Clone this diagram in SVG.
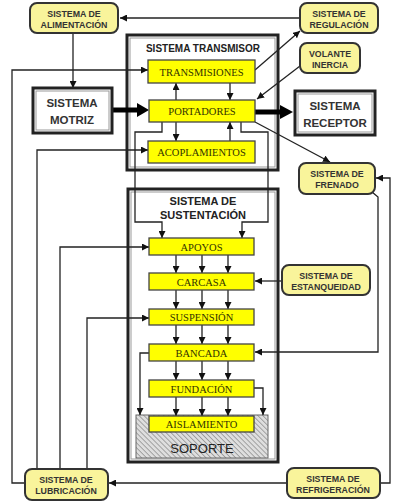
<svg xmlns="http://www.w3.org/2000/svg" width="400" height="502" viewBox="0 0 400 502">
<style>
.rb{fill:#f9f49b;stroke:#333;stroke-width:2}
.yb{fill:#ffff00;stroke:#444;stroke-width:1.3}
.big{fill:none;stroke:#222;stroke-width:3}
.bigin{fill:none;stroke:#999;stroke-width:1}
.c{fill:none;stroke:#222;stroke-width:1.3}
.rt{font-family:"Liberation Sans",Arial,sans-serif;font-weight:bold;font-size:8.8px;fill:#333;text-anchor:middle}
.yt{font-family:"Liberation Serif","Times New Roman",serif;font-size:10.5px;fill:#333300;text-anchor:middle}
.bt{font-family:"Liberation Sans",Arial,sans-serif;font-weight:bold;font-size:11.5px;fill:#333;text-anchor:middle}
.tt{font-family:"Liberation Sans",Arial,sans-serif;font-weight:bold;fill:#222;text-anchor:middle}
</style>
<defs>
<marker id="ah" viewBox="0 0 10 10" refX="10" refY="5" markerWidth="7" markerHeight="7" markerUnits="userSpaceOnUse" orient="auto">
<path d="M0,0 L10,5 L0,10 z" fill="#111"/>
</marker>
<pattern id="hatch" width="3.5" height="3.5" patternUnits="userSpaceOnUse" patternTransform="rotate(-45)">
<rect width="3.5" height="3.5" fill="#dedede"/>
<line x1="0" y1="0" x2="0" y2="3.5" stroke="#7a7a7a" stroke-width="1.2"/>
</pattern>
</defs>

<g id="transmisor">
<rect x="127" y="35" width="151" height="135" class="big"/>
<rect x="130" y="38" width="145" height="129" class="bigin"/>
<text x="203" y="52" class="tt" font-size="10">SISTEMA TRANSMISOR</text>
</g>
<g id="sustentacion">
<rect x="128" y="189" width="150" height="273" class="big"/>
<rect x="131" y="192" width="144" height="267" class="bigin"/>
<text x="203" y="205" class="tt" font-size="11">SISTEMA DE</text>
<text x="203" y="219" class="tt" font-size="11">SUSTENTACIÓN</text>
</g>
<g id="soporte">
<rect x="136" y="415" width="132" height="43" fill="url(#hatch)" stroke="#666" stroke-width="1"/>
<text x="202" y="453" font-family="Liberation Sans,Arial,sans-serif" font-size="13" fill="#222" text-anchor="middle">SOPORTE</text>
</g>

<g id="connectors">
<path class="c" d="M300,18 H120" marker-end="url(#ah)"/>
<path class="c" d="M73,33 V88" marker-end="url(#ah)"/>
<path class="c" d="M25,483 H12 V70 H148" marker-end="url(#ah)"/>
<path class="c" d="M37,469 V150 H148" marker-end="url(#ah)"/>
<path class="c" d="M60,469 V247 H149" marker-end="url(#ah)"/>
<path class="c" d="M87,469 V318 H149" marker-end="url(#ah)"/>
<path class="c" d="M176,100 V83" marker-end="url(#ah)"/>
<path class="c" d="M230,83 V100" marker-end="url(#ah)"/>
<path class="c" d="M176,122 V141" marker-end="url(#ah)"/>
<path class="c" d="M230,141 V122" marker-end="url(#ah)"/>
<path class="c" d="M162,122 V132 H135 V222 H162 V238" marker-end="url(#ah)"/>
<path class="c" d="M241,122 V132 H268 V222 H242 V238" marker-end="url(#ah)"/>
<path class="c" d="M255,70 L300,31" marker-end="url(#ah)"/>
<path class="c" d="M300,66 L257,99" marker-end="url(#ah)"/>
<path class="c" d="M255,122 L330,162" marker-end="url(#ah)"/>
<path class="c" d="M380,483 H390 V178 H376" marker-end="url(#ah)"/>
<path class="c" d="M372,192 L378,197 V352 H255" marker-end="url(#ah)"/>
<path class="c" d="M282,281 H255" marker-end="url(#ah)"/>
<path class="c" d="M287,483 H109" marker-end="url(#ah)"/>
<path class="c" d="M176,255 V273" marker-end="url(#ah)"/>
<path class="c" d="M202,255 V273" marker-end="url(#ah)"/>
<path class="c" d="M228,255 V273" marker-end="url(#ah)"/>
<path class="c" d="M176,290 V309" marker-end="url(#ah)"/>
<path class="c" d="M202,290 V309" marker-end="url(#ah)"/>
<path class="c" d="M228,290 V309" marker-end="url(#ah)"/>
<path class="c" d="M176,325 V344" marker-end="url(#ah)"/>
<path class="c" d="M202,325 V344" marker-end="url(#ah)"/>
<path class="c" d="M228,325 V344" marker-end="url(#ah)"/>
<path class="c" d="M176,361 V380" marker-end="url(#ah)"/>
<path class="c" d="M202,361 V380" marker-end="url(#ah)"/>
<path class="c" d="M228,361 V380" marker-end="url(#ah)"/>
<path class="c" d="M176,397 V416" marker-end="url(#ah)"/>
<path class="c" d="M202,397 V416" marker-end="url(#ah)"/>
<path class="c" d="M228,397 V416" marker-end="url(#ah)"/>
<path class="c" d="M149,353 H140 V415" marker-end="url(#ah)"/>
<path class="c" d="M254,388 H263 V415" marker-end="url(#ah)"/>
<path d="M112,110 H139" stroke="#000" stroke-width="5" fill="none"/>
<path d="M137,103 L149,110 L137,117 z" fill="#000"/>
<path d="M255,112 H282" stroke="#000" stroke-width="5" fill="none"/>
<path d="M280,105 L293,112 L280,119 z" fill="#000"/>
</g>

<g id="alimentacion"><rect x="30" y="3" width="88" height="30" rx="7" class="rb"/><text x="74" y="16.5" class="rt">SISTEMA DE</text><text x="74" y="27.5" class="rt">ALIMENTACIÓN</text></g>
<g id="regulacion"><rect x="300" y="3" width="78" height="30" rx="7" class="rb"/><text x="339" y="16.5" class="rt">SISTEMA DE</text><text x="339" y="27.5" class="rt">REGULACIÓN</text></g>
<g id="volante"><rect x="300" y="43" width="60" height="30" rx="7" class="rb"/><text x="330" y="56.5" class="rt">VOLANTE</text><text x="330" y="67.5" class="rt">INERCIA</text></g>
<g id="frenado"><rect x="299" y="163" width="76" height="31" rx="7" class="rb"/><text x="337" y="176.5" class="rt">SISTEMA DE</text><text x="337" y="187.5" class="rt">FRENADO</text></g>
<g id="estanqueidad"><rect x="282" y="265" width="88" height="30" rx="7" class="rb"/><text x="326" y="278.5" class="rt">SISTEMA DE</text><text x="326" y="289.5" class="rt">ESTANQUEIDAD</text></g>
<g id="lubricacion"><rect x="25" y="469" width="83" height="31" rx="7" class="rb"/><text x="66" y="482.5" class="rt">SISTEMA DE</text><text x="66" y="493.5" class="rt">LUBRICACIÓN</text></g>
<g id="refrigeracion"><rect x="287" y="468" width="93" height="30" rx="7" class="rb"/><text x="333" y="481.5" class="rt">SISTEMA DE</text><text x="333" y="492.5" class="rt">REFRIGERACIÓN</text></g>

<g id="motriz"><rect x="33" y="88" width="79" height="45" fill="#fff" class="big"/><rect x="36" y="91" width="73" height="39" class="bigin"/><text x="72" y="107" class="bt">SISTEMA</text><text x="72" y="124" class="bt">MOTRIZ</text></g>
<g id="receptor"><rect x="295" y="91" width="80" height="44" fill="#fff" class="big"/><rect x="298" y="94" width="74" height="38" class="bigin"/><text x="335" y="110" class="bt">SISTEMA</text><text x="335" y="127" class="bt">RECEPTOR</text></g>

<g id="transmisiones"><rect x="148" y="60" width="107" height="23" class="yb"/><text x="201.5" y="75.5" class="yt">TRANSMISIONES</text></g>
<g id="portadores"><rect x="149" y="100" width="106" height="22" class="yb"/><text x="202" y="115" class="yt">PORTADORES</text></g>
<g id="acoplamientos"><rect x="148" y="141" width="107" height="22" class="yb"/><text x="201.5" y="156" class="yt">ACOPLAMIENTOS</text></g>
<g id="apoyos"><rect x="149" y="238" width="105" height="17" class="yb"/><text x="201.5" y="250.5" class="yt">APOYOS</text></g>
<g id="carcasa"><rect x="149" y="273" width="105" height="17" class="yb"/><text x="201.5" y="285.5" class="yt">CARCASA</text></g>
<g id="suspension"><rect x="149" y="309" width="105" height="16" class="yb"/><text x="201.5" y="321" class="yt">SUSPENSIÓN</text></g>
<g id="bancada"><rect x="149" y="344" width="105" height="17" class="yb"/><text x="201.5" y="356.5" class="yt">BANCADA</text></g>
<g id="fundacion"><rect x="149" y="380" width="105" height="17" class="yb"/><text x="201.5" y="392.5" class="yt">FUNDACIÓN</text></g>
<g id="aislamiento"><rect x="149" y="416" width="105" height="16" class="yb"/><text x="201.5" y="428" class="yt">AISLAMIENTO</text></g>
</svg>
